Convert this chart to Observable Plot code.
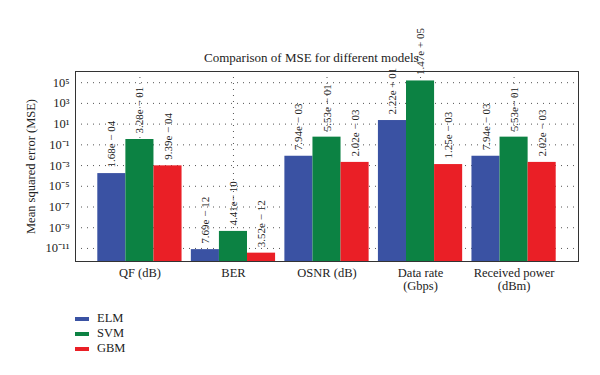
<!DOCTYPE html>
<html><head><meta charset="utf-8">
<script src="https://cdn.jsdelivr.net/npm/d3@7"></script>
<script src="https://cdn.jsdelivr.net/npm/@observablehq/plot@0.6"></script>
<style>
body{margin:0;background:#fff;}
#wrap{position:relative;width:600px;height:375px;font-family:"Liberation Serif",serif;color:#222;}
#title{position:absolute;left:204px;top:50px;font-size:13px;white-space:nowrap;}
#legend{position:absolute;left:75px;top:311px;font-size:12.5px;}
#legend div{display:flex;align-items:center;height:15px;}
#legend span.sw{display:inline-block;width:14px;height:4px;margin-right:8px;}
</style></head><body><div id="wrap"></div>
<script>
const groups = ["QF (dB)", "BER", "OSNR (dB)", "Data rate\n(Gbps)", "Received power\n(dBm)"];
const models = ["ELM", "SVM", "GBM"];
const colors = ["#3a52a3", "#0c8243", "#ea1f26"];
const elmValues = [1.68e-4, 7.69e-12, 7.94e-3, 2.22e1, 7.94e-3];
const svmValues = [3.28e-1, 4.41e-10, 5.53e-1, 1.47e5, 5.53e-1];
const gbmValues = [9.39e-4, 3.52e-12, 2.02e-3, 1.25e-3, 2.02e-3];
const elmLabels = ["1.68e \u2212 04", "7.69e \u2212 12", "7.94e \u2212 03", "2.22e + 01", "7.94e \u2212 03"];
const svmLabels = ["3.28e \u2212 01", "4.41e\u2212 10", "5.53e \u2212 01", "1.47e + 05", "5.53e\u2212 01"];
const gbmLabels = ["9.39e \u2212 04", "3.52e \u2212 12", "2.02e \u2212 03", "1.25e \u2212 03", "2.02e \u2212 03"];
const yTicks = [1e-11, 1e-9, 1e-7, 1e-5, 1e-3, 1e-1, 1e1, 1e3, 1e5];
const yDomain = [5.5e-13, 1.2e6];
const titleText = "Comparison of MSE for different models";
const yLabel = "Mean squared error (MSE)";

const supMap = {"-":"\u207B","0":"\u2070","1":"\u00B9","2":"\u00B2","3":"\u00B3","4":"\u2074","5":"\u2075","6":"\u2076","7":"\u2077","8":"\u2078","9":"\u2079"};
const sup = d => "10" + String(Math.round(Math.log10(d))).split("").map(c => supMap[c]).join("");

// group index positions on a linear x scale; each group band holds three contiguous bars
const band = 0.9006, outer = 0.2384;
const barW = band / models.length;
const valueSets = [elmValues, svmValues, gbmValues];
const labelSets = [elmLabels, svmLabels, gbmLabels];
const data = [];
groups.forEach((g, i) => models.forEach((m, j) => data.push({gi: i, mj: j, group: g, model: m, value: valueSets[j][i], label: labelSets[j][i]})));
const groupIdx = groups.map((g, i) => i);
const left = d => d.gi - band / 2 + d.mj * barW;

const chart = Plot.plot({
  width: 600, height: 375,
  marginTop: 71, marginBottom: 114, marginLeft: 75, marginRight: 22,
  style: {fontFamily: "Liberation Serif, serif", fontSize: "12.5px", color: "#222", background: "white", overflow: "visible"},
  x: {type: "linear", domain: [-band / 2 - outer, groups.length - 1 + band / 2 + outer], ticks: groupIdx, tickFormat: i => groups[i], tickSize: 0, tickPadding: 7, label: null},
  y: {type: "log", domain: yDomain, ticks: yTicks, tickFormat: sup, tickSize: 0, tickPadding: 6, label: yLabel, labelAnchor: "center", labelOffset: 49, labelArrow: "none"},
  color: {domain: models, range: colors},
  marks: [
    Plot.gridY(yTicks, {stroke: "#555", strokeOpacity: 1, strokeDasharray: "1,5"}),
    Plot.gridX(groupIdx, {stroke: "#555", strokeOpacity: 1, strokeDasharray: "1,5"}),
    Plot.rectY(data, {x1: left, x2: d => left(d) + barW, y1: yDomain[0], y2: "value", fill: "model"}),
    Plot.text(data, {x: d => left(d) + barW / 2, y: "value", text: "label", rotate: -90, textAnchor: "start", dy: -6, fontSize: 11, fill: "#222"}),
    Plot.frame({stroke: "#333"})
  ]
});
const wrap = document.getElementById("wrap");
wrap.appendChild(chart);
const t = document.createElement("div"); t.id = "title"; t.textContent = titleText; wrap.appendChild(t);
const lg = document.createElement("div"); lg.id = "legend";
models.forEach((m, j) => {
  const row = document.createElement("div");
  const sw = document.createElement("span"); sw.className = "sw"; sw.style.background = colors[j];
  row.appendChild(sw); row.appendChild(document.createTextNode(m)); lg.appendChild(row);
});
wrap.appendChild(lg);
</script></body></html>
